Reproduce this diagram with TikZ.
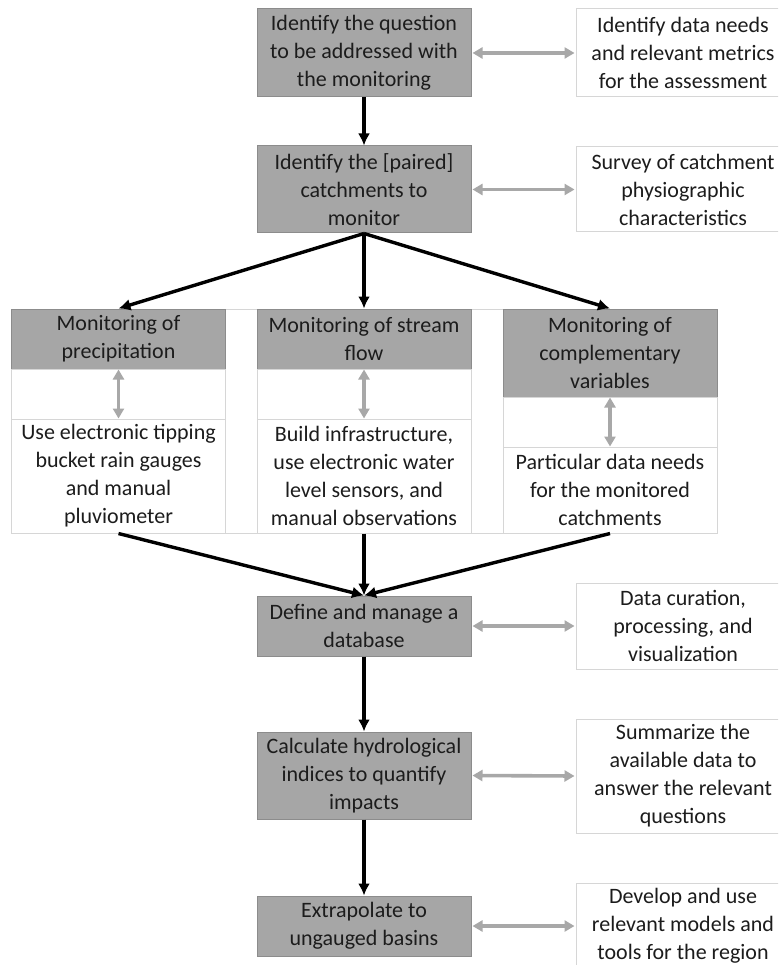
\documentclass[tikz,border=0pt]{standalone}
\usepackage{fontspec}
\setmainfont{Carlito}
\usetikzlibrary{arrows.meta}
\definecolor{boxgray}{HTML}{A6A6A6}
\definecolor{boxedge}{HTML}{8C8C8C}
\definecolor{lightedge}{HTML}{D6D6D6}
\definecolor{arrgray}{HTML}{A8A8A8}
\definecolor{txt}{HTML}{1C1C1C}
\begin{document}
\begin{tikzpicture}[x=1pt,y=-1pt,
  every node/.style={font=\fontsize{22}{28}\selectfont, text=txt, align=center, inner sep=0pt},
  gbox/.style={draw=boxedge, fill=boxgray, line width=1pt, minimum width=214pt},
  wbox/.style={draw=lightedge, fill=white, line width=1pt, minimum width=214pt},
  flow/.style={-{Latex[length=12pt,width=12pt]}, line width=3.4pt, black},
  link/.style={{Triangle[length=10pt,width=11pt]}-{Triangle[length=10pt,width=11pt]}, line width=3.6pt, arrgray, shorten <=1pt, shorten >=1pt},
]
\useasboundingbox (0,0) rectangle (778,965);
\clip (0,0) rectangle (778,965);
\fill[white] (0,0) rectangle (778,965);

% main column
\node[gbox, minimum height=88pt] (q1) at (364,53) {Identify the question\\to be addressed with\\the monitoring};
\node[gbox, minimum height=87pt] (q2) at (364,189.5) {Identify the [paired]\\catchments to\\monitor};
\node[gbox, minimum height=60pt] (db) at (364,626) {Define and manage a\\database};
\node[gbox, minimum height=87pt] (calc) at (364,775.5) {Calculate hydrological\\indices to quantify\\impacts};
\node[gbox, minimum height=60pt] (extr) at (364,926) {Extrapolate to\\ungauged basins};

% right column
\node[wbox, minimum height=88pt] (r1) at (683,53) {Identify data needs\\and relevant metrics\\for the assessment};
\node[wbox, minimum height=85pt] (r2) at (683,189.5) {Survey of catchment\\physiographic\\characteristics};
\node[wbox, minimum height=86pt] (r3) at (683,626) {Data curation,\\processing, and\\visualization};
\node[wbox, minimum height=114pt] (r4) at (683,776) {Summarize the\\available data to\\answer the relevant\\questions};
\node[wbox, minimum height=86pt] (r5) at (683,926) {Develop and use\\relevant models and\\tools for the region};

% table of monitoring
\draw[lightedge, line width=1pt] (12,309) rectangle (717,533);
\node[gbox, minimum height=60pt] (h1) at (118.5,339) {Monitoring of\\precipitation};
\node[wbox, minimum height=50pt] (m1) at (118.5,394) {};
\node[wbox, minimum height=114pt] (b1) at (118.5,476) {Use electronic tipping\\bucket rain gauges\\and manual\\pluviometer};

\node[gbox, minimum height=60pt] (h2) at (364,339) {Monitoring of stream\\flow};
\node[wbox, minimum height=50pt] (m2) at (364,394) {};
\node[wbox, minimum height=114pt] (b2) at (364,476) {Build infrastructure,\\use electronic water\\level sensors, and\\manual observations};

\node[gbox, minimum height=88pt] (h3) at (610,353) {Monitoring of\\complementary\\variables};
\node[wbox, minimum height=50pt] (m3) at (610,422) {};
\node[wbox, minimum height=86pt] (b3) at (610,490) {Particular data needs\\for the monitored\\catchments};

% gray links
\draw[link] (q1.east) -- (r1.west);
\draw[link] (q2.east) -- (r2.west);
\draw[link] (db.east) -- (r3.west);
\draw[link] (calc.east) -- (r4.west);
\draw[link] (extr.east) -- (r5.west);
\draw[link] (m1.north) -- (m1.south);
\draw[link] (m2.north) -- (m2.south);
\draw[link] (m3.north) -- (m3.south);

% black flow
\draw[flow] (q1.south) -- (q2.north);
\draw[flow] (q2.south) -- (h1.north);
\draw[flow] (q2.south) -- (h2.north);
\draw[flow] (q2.south) -- (h3.north);
\draw[flow] (b1.south) -- (db.north);
\draw[flow] (b2.south) -- (db.north);
\draw[flow] (b3.south) -- (db.north);
\draw[flow] (db.south) -- (calc.north);
\draw[flow] (calc.south) -- (extr.north);
\end{tikzpicture}
\end{document}
